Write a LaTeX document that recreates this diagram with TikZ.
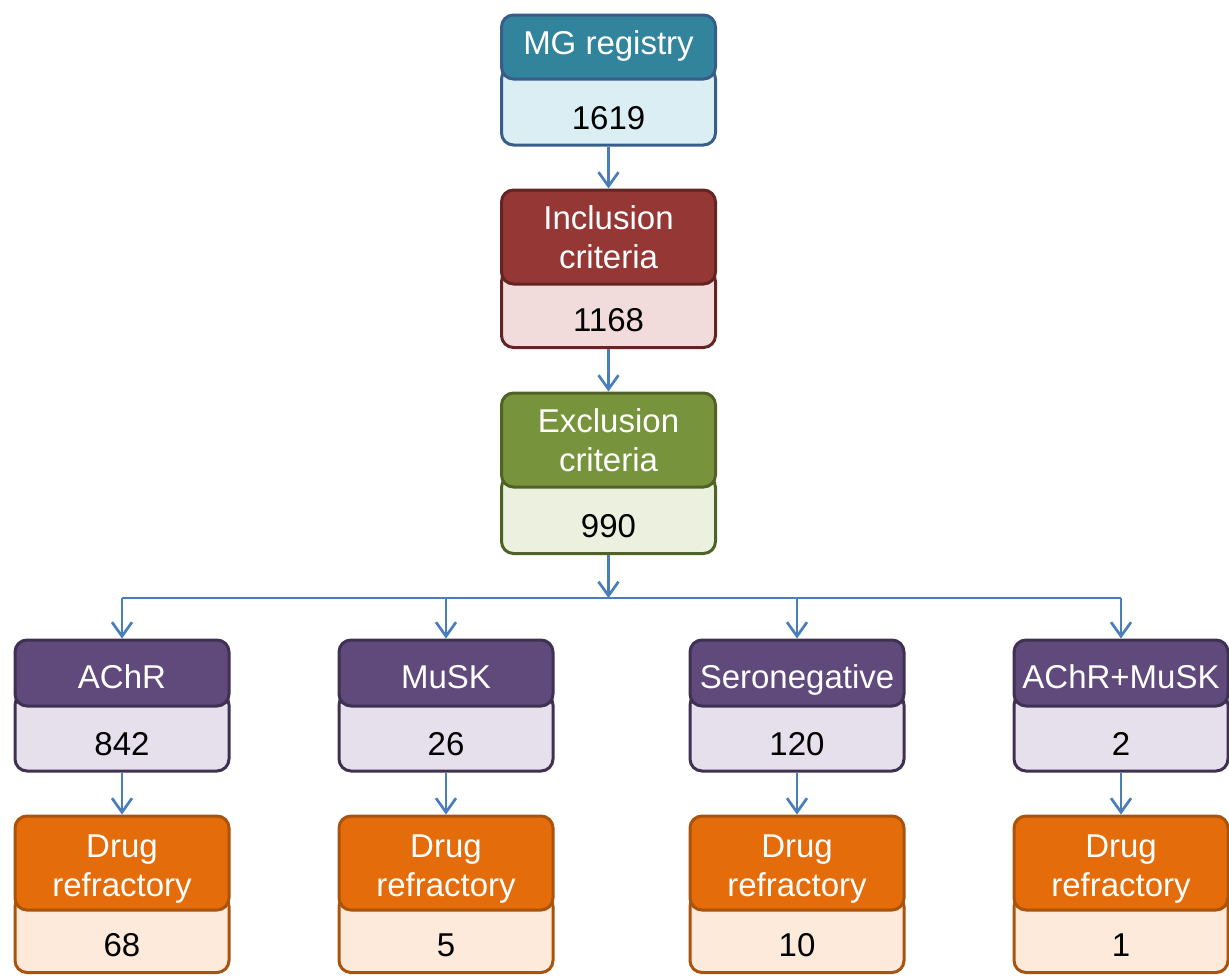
\documentclass[tikz,border=0pt]{standalone}
\usepackage{fontspec}
\setmainfont{Liberation Sans}
\usetikzlibrary{arrows.meta}
\definecolor{tealH}{HTML}{31849B}
\definecolor{tealB}{HTML}{385D8A}
\definecolor{tealL}{HTML}{DBEEF4}
\definecolor{redH}{HTML}{953735}
\definecolor{redB}{HTML}{632523}
\definecolor{redL}{HTML}{F2DCDB}
\definecolor{grnH}{HTML}{77933C}
\definecolor{grnB}{HTML}{4F6228}
\definecolor{grnL}{HTML}{EBF1DE}
\definecolor{purH}{HTML}{604A7B}
\definecolor{purB}{HTML}{3F3151}
\definecolor{purL}{HTML}{E6E0EC}
\definecolor{orgH}{HTML}{E46C0A}
\definecolor{orgB}{HTML}{A9530C}
\definecolor{orgL}{HTML}{FDEADA}
\definecolor{arrC}{HTML}{4A7EBB}
\begin{document}
\begin{tikzpicture}[x=0.5pt,y=-0.5pt,
  box/.style={rectangle, rounded corners=6pt, line width=1.5pt, minimum width=107pt,
    inner sep=1pt, font=\fontsize{16.5}{19.5}\selectfont, align=center},
  headA/.style={box, minimum height=32pt, text=white, text height=11.7pt, text depth=4.66pt},
  headR/.style={box, minimum height=33pt, text=white, text height=15.74pt, text depth=0pt},
  headB/.style={box, minimum height=47pt, text=white},
  low/.style={box, minimum height=39pt, text height=23.2pt, text depth=0pt, anchor=south},
  teal/.style={draw=tealB, fill=tealH},
  tealLo/.style={draw=tealB, fill=tealL},
  red/.style={draw=redB, fill=redH},
  redLo/.style={draw=redB, fill=redL},
  grn/.style={draw=grnB, fill=grnH},
  grnLo/.style={draw=grnB, fill=grnL},
  pur/.style={draw=purB, fill=purH},
  purLo/.style={draw=purB, fill=purL},
  org/.style={draw=orgB, fill=orgH},
  orgLo/.style={draw=orgB, fill=orgL},
  conn/.style={draw=arrC, line width=1.35pt},
  arr/.style={conn, -{Straight Barb[length=7pt,width=10pt]}}
]
\useasboundingbox (0,0) rectangle (1229,976);

% column boxes
\node[low, tealLo] (regL) at (608.5,146.5) {1619};
\node[headA, teal, anchor=north] (regH) at (608.5,13.5) {MG registry};
\node[low, redLo] (incL) at (608.5,349) {1168};
\node[headB, red, anchor=north] (incH) at (608.5,188.5) {Inclusion\\criteria};
\node[low, grnLo] (excL) at (608.5,555) {990};
\node[headB, grn, anchor=north] (excH) at (608.5,391.5) {Exclusion\\criteria};

% row of antibody groups
\node[low, purLo] (aL) at (122,772.5) {842};
\node[headR, pur, anchor=north] (aH) at (122,638.5) {AChR};
\node[low, purLo] (mL) at (446,772.5) {26};
\node[headR, pur, anchor=north] (mH) at (446,638.5) {MuSK};
\node[low, purLo] (sL) at (797,772.5) {120};
\node[headR, pur, anchor=north] (sH) at (797,638.5) {Seronegative};
\node[low, purLo] (bL) at (1121,772.5) {2};
\node[headR, pur, anchor=north] (bH) at (1121,638.5) {AChR+MuSK};

% drug refractory
\node[low, orgLo] (aDL) at (122,974) {68};
\node[headB, org, anchor=north] (aDH) at (122,814.5) {\rule{0pt}{17pt}Drug\\refractory};
\node[low, orgLo] (mDL) at (446,974) {5};
\node[headB, org, anchor=north] (mDH) at (446,814.5) {\rule{0pt}{17pt}Drug\\refractory};
\node[low, orgLo] (sDL) at (797,974) {10};
\node[headB, org, anchor=north] (sDH) at (797,814.5) {\rule{0pt}{17pt}Drug\\refractory};
\node[low, orgLo] (bDL) at (1121,974) {1};
\node[headB, org, anchor=north] (bDH) at (1121,814.5) {\rule{0pt}{17pt}Drug\\refractory};

% connectors
\draw[arr] (regL.south) -- (incH.north);
\draw[arr] (incL.south) -- (excH.north);
\coordinate (bus) at (608.5,598);
\draw[arr] (excL.south) -- (bus);
\draw[conn] (aH.north |- bus) -- (bH.north |- bus);
\draw[arr] (aH.north |- bus) -- (aH.north);
\draw[arr] (mH.north |- bus) -- (mH.north);
\draw[arr] (sH.north |- bus) -- (sH.north);
\draw[arr] (bH.north |- bus) -- (bH.north);
\draw[arr] (aL.south) -- (aDH.north);
\draw[arr] (mL.south) -- (mDH.north);
\draw[arr] (sL.south) -- (sDH.north);
\draw[arr] (bL.south) -- (bDH.north);
\end{tikzpicture}
\end{document}
